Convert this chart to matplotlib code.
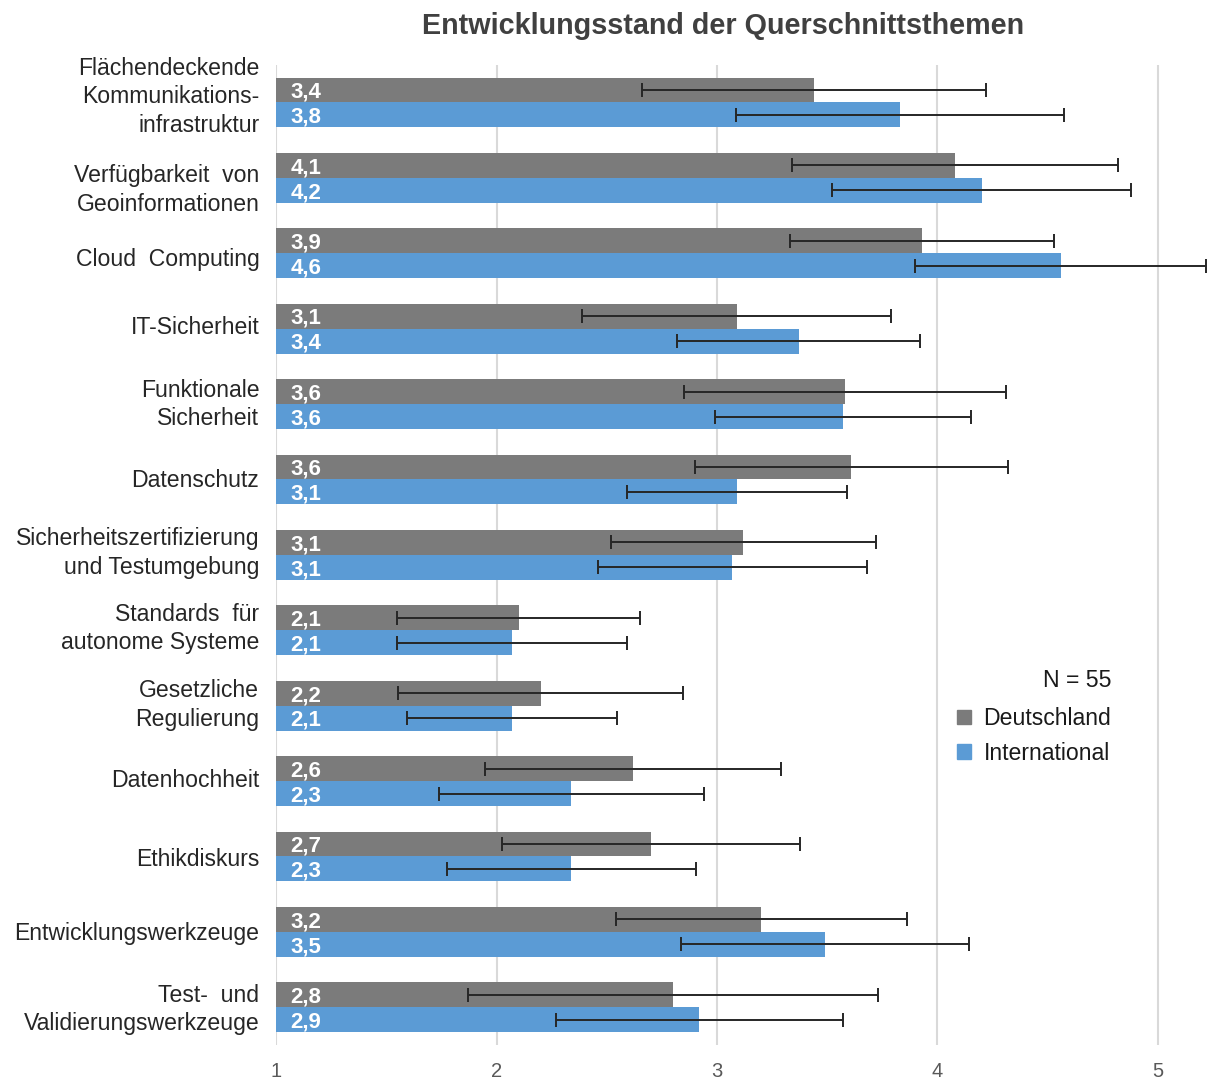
import matplotlib.pyplot as plt
import matplotlib.transforms as mtransforms
import numpy as np
from matplotlib.patches import Patch

plt.rcParams['font.family'] = ['Liberation Sans', 'DejaVu Sans']

# Kategorien (von oben nach unten)
categories = [
    'Flächendeckende\nKommunikations-\ninfrastruktur',
    'Verfügbarkeit  von\nGeoinformationen',
    'Cloud  Computing',
    'IT-Sicherheit',
    'Funktionale\nSicherheit',
    'Datenschutz',
    'Sicherheitszertifizierung\nund Testumgebung',
    'Standards  für\nautonome Systeme',
    'Gesetzliche\nRegulierung',
    'Datenhochheit',
    'Ethikdiskurs',
    'Entwicklungswerkzeuge',
    'Test-  und\nValidierungswerkzeuge',
]

# Mittelwerte und Standardabweichung
de_mean = [3.44, 4.08, 3.93, 3.09, 3.58, 3.61, 3.12, 2.10, 2.20, 2.62, 2.70, 3.20, 2.80]
de_std = [0.78, 0.74, 0.60, 0.70, 0.73, 0.71, 0.60, 0.55, 0.645, 0.67, 0.675, 0.66, 0.93]
int_mean = [3.83, 4.20, 4.56, 3.37, 3.57, 3.09, 3.07, 2.07, 2.07, 2.34, 2.34, 3.49, 2.92]
int_std = [0.745, 0.68, 0.66, 0.55, 0.58, 0.50, 0.61, 0.52, 0.475, 0.60, 0.565, 0.655, 0.65]

series_names = ['Deutschland', 'International']
n_label = 'N = 55'
col_de = '#7b7b7b'
col_int = '#5b9bd5'

# kleine vertikale Verschiebung der Beschriftungen (Pixel, + = nach oben)
label_shift = [11, -7, -4, 4, 5, 1, 7, 7, 6, 3, -1, 1, 3]

fig = plt.figure(figsize=(12.08, 10.79), dpi=100)
ax = fig.add_axes([0.2285, 0.0315, 0.7715, 0.9085])

y = np.arange(len(categories))
h = 0.33
err_kw = dict(ecolor='#262626', elinewidth=1.4, capsize=5, capthick=1.4)
ax.barh(y - h / 2, de_mean, height=h, left=0, color=col_de, xerr=de_std,
        error_kw=err_kw, zorder=2)
ax.barh(y + h / 2, int_mean, height=h, left=0, color=col_int, xerr=int_std,
        error_kw=err_kw, zorder=2)

ax.set_xlim(1, 5.227)
ax.set_ylim(len(categories) - 0.5, -0.5)

# Werte in den Balken
for vals, off in ((de_mean, -h / 2), (int_mean, h / 2)):
    for yi, v in zip(y, vals):
        ax.text(1.065, yi + off + 0.03, f"{v:.1f}".replace('.', ','), color='white',
                fontsize=16, fontweight='bold', va='center', ha='left', zorder=4)

ax.set_yticks(y)
ax.set_yticklabels(categories, fontsize=16.6, color='#262626', ha='right',
                   multialignment='right', linespacing=1.3)
ax.tick_params(axis='y', length=0, pad=12)
for lab, d in zip(ax.get_yticklabels(), label_shift):
    lab.set_transform(lab.get_transform() +
                      mtransforms.ScaledTranslation(0, d / 100, fig.dpi_scale_trans))
ax.set_xticks([1, 2, 3, 4, 5])
ax.set_xticklabels(['1', '2', '3', '4', '5'], fontsize=14.5, color='#595959')
ax.tick_params(axis='x', length=0, pad=12)
for s in ax.spines.values():
    s.set_visible(False)
ax.set_axisbelow(True)
ax.grid(axis='x', color='#d9d9d9', linewidth=1.5)

fig.text(0.5985, 0.976, 'Entwicklungsstand der Querschnittsthemen', ha='center',
         va='center', fontsize=20.7, fontweight='bold', color='#404040')

fig.text(0.92, 0.369, n_label, ha='right', va='center', fontsize=16.6, color='#1a1a1a')
handles = [Patch(color=col_de), Patch(color=col_int)]
fig.legend(handles, series_names, loc='upper left', bbox_to_anchor=(0.775, 0.364),
           frameon=False, fontsize=16.6, handlelength=0.6, handleheight=0.6,
           handletextpad=0.55, labelspacing=0.5, labelcolor='#1a1a1a')

fig.savefig('out.png', dpi=100)
